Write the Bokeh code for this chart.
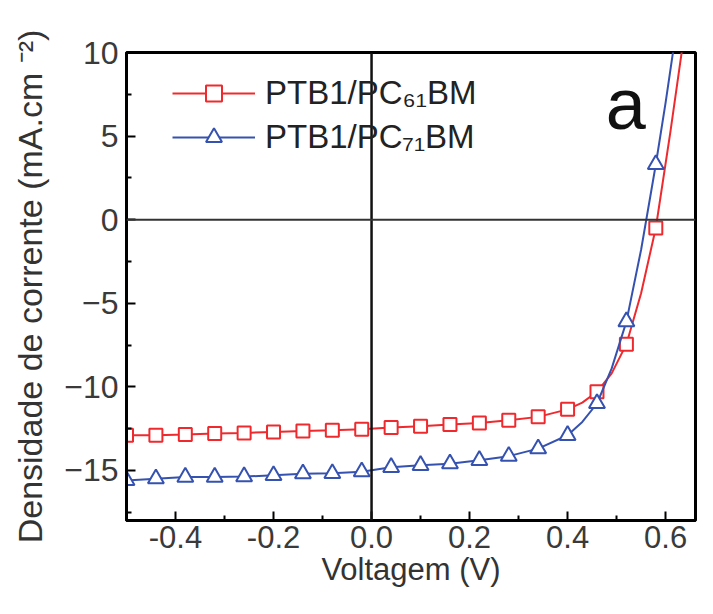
from bokeh.plotting import figure
from bokeh.models import Span, Label, Legend, LegendItem, FixedTicker, NumeralTickFormatter, Range1d
from bokeh.embed import file_html
from bokeh.resources import INLINE

# ---- data ----
voltage = [-0.50, -0.44, -0.38, -0.32, -0.26, -0.20, -0.14, -0.08, -0.02,
           0.04, 0.10, 0.16, 0.22, 0.28, 0.34, 0.40, 0.46, 0.52, 0.58]
j_pc61 = [-12.9, -12.9, -12.86, -12.8, -12.76, -12.7, -12.64, -12.6, -12.54,
          -12.44, -12.36, -12.26, -12.16, -12.0, -11.8, -11.35, -10.3, -7.45, -0.5]
j_pc71 = [-15.6, -15.5, -15.4, -15.4, -15.37, -15.3, -15.2, -15.18, -15.08,
          -14.82, -14.7, -14.6, -14.4, -14.15, -13.7, -12.9, -11.0, -6.1, 3.3]

# denser curve points (measured curve continues past the last marker)
v_line_61 = [-0.50, -0.44, -0.38, -0.32, -0.26, -0.20, -0.14, -0.08, -0.02,
             0.04, 0.10, 0.16, 0.22, 0.28, 0.34, 0.40, 0.43, 0.46, 0.49, 0.52,
             0.55, 0.58, 0.61, 0.64]
j_line_61 = [-12.9, -12.9, -12.86, -12.8, -12.76, -12.7, -12.64, -12.6, -12.54,
             -12.44, -12.36, -12.26, -12.16, -12.0, -11.8, -11.35, -10.95, -10.3, -9.2, -7.45,
             -4.4, -0.5, 5.3, 11.5]
v_line_71 = [-0.50, -0.44, -0.38, -0.32, -0.26, -0.20, -0.14, -0.08, -0.02,
             0.04, 0.10, 0.16, 0.22, 0.28, 0.34, 0.40, 0.43, 0.46, 0.49, 0.52,
             0.55, 0.58, 0.60, 0.63]
j_line_71 = [-15.6, -15.5, -15.4, -15.4, -15.37, -15.3, -15.2, -15.18, -15.08,
             -14.82, -14.7, -14.6, -14.4, -14.15, -13.7, -12.9, -12.1, -11.0, -8.9, -6.1,
             -1.8, 3.3, 7.0, 13.0]

x_ticks = [-0.4, -0.2, 0.0, 0.2, 0.4, 0.6]
y_ticks = [-15, -10, -5, 0, 5, 10]
series_labels = ["PTB1/PC\u2086\u2081BM", "PTB1/PC\u2087\u2081BM"]
x_title = "Voltagem (V)"
y_title = "Densidade de corrente (mA.cm \u207b\u00b2)"

RED = "#ee2a2e"
BLUE = "#3552b0"
FONT = "Liberation Sans"

p = figure(width=697, height=598, output_backend="svg", toolbar_location=None,
           x_range=Range1d(-0.5, 0.661), y_range=Range1d(-18, 10),
           min_border_left=126, min_border_right=2, min_border_top=52, min_border_bottom=78)
p.grid.visible = False
p.outline_line_color = "black"
p.outline_line_width = 3
p.background_fill_color = "white"

# zero lines
p.add_layout(Span(location=0, dimension="height", line_color="#111111", line_width=2.5))
p.add_layout(Span(location=0, dimension="width", line_color="#333333", line_width=2))

r1l = p.line(v_line_61, j_line_61, line_color=RED, line_width=2)
r1s = p.scatter(voltage, j_pc61, marker="square", size=13, line_color=RED,
                fill_color="white", line_width=2)
r2l = p.line(v_line_71, j_line_71, line_color=BLUE, line_width=2)
r2s = p.scatter(voltage, j_pc71, marker="triangle", size=16, line_color=BLUE,
                fill_color="white", line_width=2)

for ax in (p.xaxis[0], p.yaxis[0]):
    ax.major_tick_in = 9
    ax.major_tick_out = 0
    ax.minor_tick_in = 5
    ax.minor_tick_out = 0
    ax.major_tick_line_width = 2
    ax.minor_tick_line_width = 2
    ax.axis_line_width = 3
    ax.major_label_text_font = FONT
    ax.major_label_text_font_size = "32px"
    ax.major_label_text_color = "#3a3a3a"
    ax.axis_label_text_font = FONT
    ax.axis_label_text_font_style = "normal"
    ax.axis_label_text_color = "#333333"

p.xaxis.ticker = FixedTicker(ticks=x_ticks, minor_ticks=[-0.5, -0.3, -0.1, 0.1, 0.3, 0.5, 0.7])
p.xaxis.formatter = NumeralTickFormatter(format="0.0")
p.xaxis.axis_label = x_title
p.xaxis.major_label_text_font_size = "31px"
p.xaxis.axis_label_text_font_size = "31px"
p.xaxis.major_label_standoff = 5
p.xaxis.axis_label_standoff = 1

p.yaxis.ticker = FixedTicker(ticks=y_ticks, minor_ticks=[-17.5, -12.5, -7.5, -2.5, 2.5, 7.5])
p.yaxis.axis_label = y_title
p.yaxis.axis_label_text_font_size = "34px"
p.yaxis.major_label_standoff = 8
p.yaxis.axis_label_standoff = 12

legend = Legend(items=[LegendItem(label=series_labels[0], renderers=[r1l, r1s]),
                       LegendItem(label=series_labels[1], renderers=[r2l, r2s])],
                location=(46, 363), border_line_color=None, background_fill_alpha=0,
                padding=0, margin=0, glyph_width=83, glyph_height=40, label_height=40,
                spacing=4, label_standoff=10, label_text_font=FONT,
                label_text_font_size="33px", label_text_color="#222222")
p.add_layout(legend)

p.add_layout(Label(x=0.478, y=6.9, text="a", text_font=FONT, text_font_size="72px",
                   text_color="#111111", text_baseline="alphabetic"))

open("out.html", "w").write(file_html(p, INLINE))
